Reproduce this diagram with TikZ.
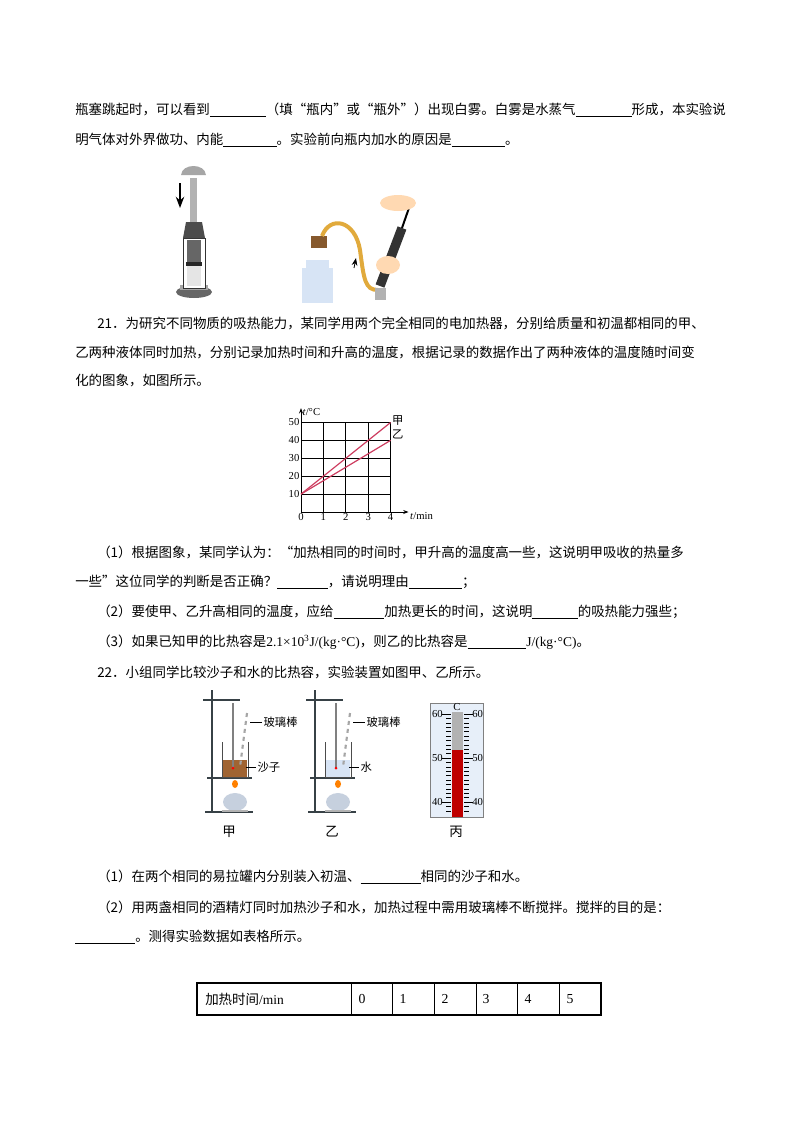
\documentclass[tikz,border=0pt]{standalone}
\usepackage{fontspec}
\setmainfont{Liberation Serif}
\newfontfamily\cjk{Noto Sans CJK SC}
\usetikzlibrary{arrows.meta}
\definecolor{plotred}{RGB}{205,60,95}
\definecolor{glassblue}{RGB}{215,228,245}
\definecolor{sandbrown}{RGB}{160,100,50}
\definecolor{standgray}{RGB}{55,65,70}
\definecolor{hose}{RGB}{225,170,60}
\newcommand{\blank}[1]{\rule[-2pt]{#1}{0.5pt}}
\tikzset{
  line/.style={anchor=west, inner sep=0pt, font=\cjk\fontsize{10.1}{12}\selectfont},
  small/.style={inner sep=1pt, font=\fontsize{8}{9}\selectfont},
  cjksmall/.style={inner sep=1pt, font=\cjk\fontsize{8.5}{9}\selectfont},
  grid line/.style={black, line width=0.6pt},
  stand/.style={standgray, line width=2.2pt},
}
\begin{document}
\begin{tikzpicture}[x=0.75pt, y=-0.75pt]
\useasboundingbox (0,0) rectangle (800,1132);
% text of question 20
\node[line] (L1) at (75,110) {瓶塞跳起时，可以看到\blank{42pt}（填“瓶内”或“瓶外”）出现白雾。白雾是水蒸气\blank{42pt}形成，本实验说};
\node[line] (L2) at (75,140) {明气体对外界做功、内能\blank{40pt}。实验前向瓶内加水的原因是\blank{40pt}。};
% piston device
\fill[gray!80!black] (194,292) ellipse (18 and 6);
\fill[gray!70] (180,285) rectangle (208,290);
\draw[black!80, fill=white] (183,238) rectangle (205,288);
\fill[black!60] (187,240) rectangle (201,262);
\fill[black!85] (186,262) rectangle (202,266);
\fill[gray!20] (187,266) rectangle (201,286);
\fill[black!70] (183,238) -- (186,222) -- (202,222) -- (205,238) -- cycle;
\fill[gray!60] (190,178) rectangle (197,222);
\fill[gray!70] (181,175) .. controls (182,163) and (205,163) .. (206,175) -- cycle;
\draw[-{Stealth}, line width=1.2pt] (180,183) -- (180,208);
% bottle and pump
\fill[glassblue] (302,268) rectangle (333,303);
\fill[glassblue] (306,260) rectangle (329,268);
\fill[brown!70!black] (311,236) rectangle (327,248);
\draw[hose, line width=3pt] (322,236) .. controls (330,215) and (355,220) .. (360,250) .. controls (364,280) and (365,290) .. (378,290);
\draw[black!80, line width=7pt] (380,286) -- (402,228);
\draw[black, line width=1.5pt] (402,228) -- (410,205);
\fill[orange!30] (398,203) ellipse (18 and 8);
\fill[orange!30] (388,265) ellipse (12 and 9);
\fill[gray!60] (375,288) rectangle (386,300);
\draw[-{Stealth}, line width=0.6pt] (354,268) -- (356,258);
% question 21
\node[line] (Q21a) at (97,323) {21．为研究不同物质的吸热能力，某同学用两个完全相同的电加热器，分别给质量和初温都相同的甲、};
\node[line] (Q21b) at (75,352) {乙两种液体同时加热，分别记录加热时间和升高的温度，根据记录的数据作出了两种液体的温度随时间变};
\node[line] (Q21c) at (75,381) {化的图象，如图所示。};
% graph
\begin{scope}[shift={(301,512)}, x=16.8pt, y=1.343pt]
  \foreach \i in {1,...,4} \draw[grid line] (\i,0) -- (\i,50);
  \foreach \j in {10,20,...,50} \draw[grid line] (0,\j) -- (4,\j);
  \draw[-{Stealth[length=4pt]}, line width=0.6pt] (0,0) -- (4.8,0);
  \draw[-{Stealth[length=4pt]}, line width=0.6pt] (0,0) -- (0,58);
  \foreach \i in {0,...,4} \node[small, below] at (\i,0) {\i};
  \foreach \j in {10,20,...,50} \node[small, left] at (0,\j) {\j};
  \draw[plotred, line width=0.9pt] (0,10) -- (4,50);
  \draw[plotred, line width=0.9pt] (0,10) -- (4,40);
  \node[cjksmall, right] (JIA) at (4,51) {甲};
  \node[cjksmall, right] (YI) at (4,43.5) {乙};
  \node[small, right] (TLAB) at (0,56) {\textit{t}/°C};
  \node[small, right] (XLAB) at (4.8,-2.5) {\textit{t}/min};
\end{scope}
\node[line] (P1) at (97,552) {（1）根据图象，某同学认为：“加热相同的时间时，甲升高的温度高一些，这说明甲吸收的热量多};
\node[line] (P1b) at (75,582) {一些”这位同学的判断是否正确？\blank{38pt}，请说明理由\blank{40pt}；};
\node[line] (P2) at (97,612) {（2）要使甲、乙升高相同的温度，应给\blank{38pt}加热更长的时间，这说明\blank{34pt}的吸热能力强些；};
\node[line] (P3) at (97,642) {（3）如果已知甲的比热容是{\rmfamily 2.1×10\textsuperscript{3}J/(kg·°C)}，则乙的比热容是\blank{44pt}{\rmfamily J/(kg·°C)}。};
\node[line] (Q22) at (97,672) {22．小组同学比较沙子和水的比热容，实验装置如图甲、乙所示。};
% stands
\foreach \dx/\fillc/\lab/\lbl in {0/sandbrown/甲/沙子, 103/glassblue/乙/水} {
  \begin{scope}[xshift=\dx*0.75pt]
    \draw[stand] (205,812) -- (253,812);
    \draw[stand] (212,690) -- (212,812);
    \draw[stand] (203,700) -- (240,700);
    \draw[stand] (207,778) -- (252,778);
    \fill[\fillc] (223,760) rectangle (247,777);
    \draw[black!70] (222,742) -- (222,777) -- (248,777) -- (248,742);
    \fill[orange] (235,784) ellipse (3 and 4);
    \fill[glassblue!80!gray] (235,802) ellipse (12 and 9);
    \fill[gray!60] (222,810) rectangle (248,812);
    \draw[gray, line width=2pt] (233,703) -- (233,768);
    \fill[red] (233,768) circle (1.5);
    \draw[gray!70, line width=1.6pt, dashed] (247,713) -- (240,767);
    \draw[black] (250,722) -- (262,722);
    \node[cjksmall, right] at (262,722) {玻璃棒};
    \draw[black] (246,767) -- (256,767);
    \node[cjksmall, right] at (256,767) {\lbl};
    \node[line, anchor=center] at (229,832) {\lab};
  \end{scope}
}
% thermometer
\fill[glassblue!60] (430,703) rectangle (483,817);
\draw[gray] (430,703) rectangle (483,817);
\fill[gray!60] (452,712) rectangle (463,750);
\fill[red!75!black] (452,750) rectangle (463,817);
\foreach \k in {0,...,22} {
  \draw[black, line width=0.4pt] (446,{714+\k*4.4}) -- (451,{714+\k*4.4});
  \draw[black, line width=0.4pt] (464,{714+\k*4.4}) -- (469,{714+\k*4.4});
}
\foreach \v/\yy in {60/714, 50/758, 40/802} {
  \draw[black, line width=0.6pt] (442,\yy) -- (451,\yy);
  \draw[black, line width=0.6pt] (464,\yy) -- (473,\yy);
  \node[small, left, inner sep=0pt] at (443,\yy) {\v};
  \node[small, right, inner sep=0pt] at (472,\yy) {\v};
}
\node[small] (CLAB) at (457,707) {C};
\node[line, anchor=center] (BING) at (456,832) {丙};
\node[line] (R1) at (97,877) {（1）在两个相同的易拉罐内分别装入初温、\blank{45pt}相同的沙子和水。};
\node[line] (R2) at (97,907) {（2）用两盏相同的酒精灯同时加热沙子和水，加热过程中需用玻璃棒不断搅拌。搅拌的目的是：};
\node[line] (R3) at (75,937) {\blank{45pt}。测得实验数据如表格所示。};
% table
\draw[line width=0.8pt] (197,983) rectangle (601,1015);
\foreach \cx in {351,392,434,476,517,559} \draw[line width=0.6pt] (\cx,983) -- (\cx,1015);
\node[line] (TH) at (205,999) {加热时间{\rmfamily /min}};
\foreach \n/\cx in {0/362,1/403,2/445,3/486,4/528,5/570} \node[line, font=\fontsize{10.3}{12}\selectfont, anchor=center] at (\cx,999) {\n};
\end{tikzpicture}
\end{document}
